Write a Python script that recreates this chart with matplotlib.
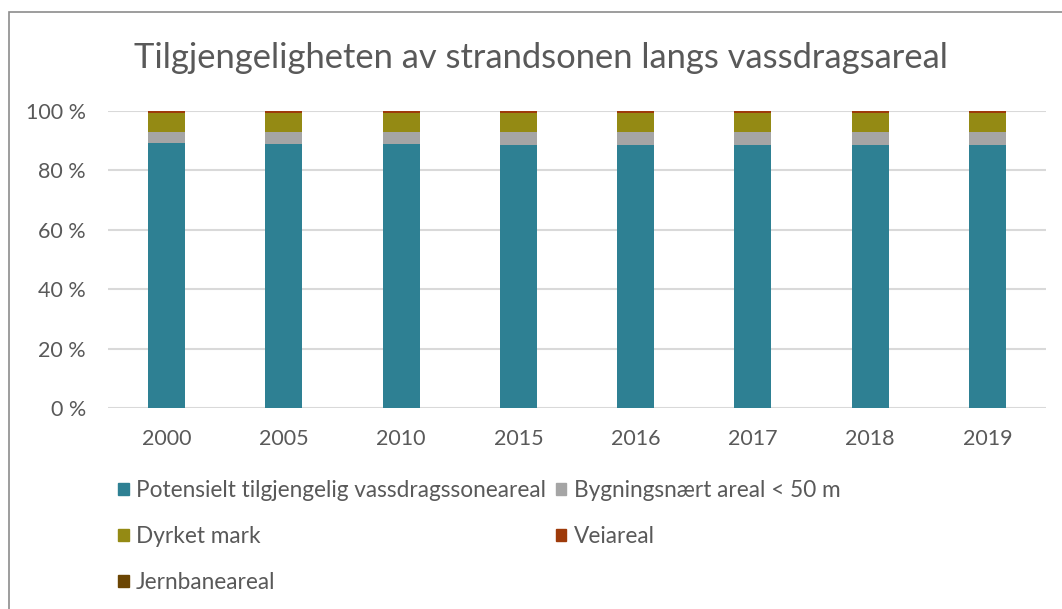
import numpy as np
import matplotlib.pyplot as plt
from matplotlib.patches import Rectangle, Patch

plt.rcParams['font.family'] = ['Lato', 'DejaVu Sans']

# Dades llegides de la gràfica (percent)
aar = ['2000', '2005', '2010', '2015', '2016', '2017', '2018', '2019']
potensielt = [89.1, 89.0, 88.8, 88.7, 88.7, 88.6, 88.6, 88.6]
bygningsnaert = [3.8, 3.9, 4.1, 4.2, 4.2, 4.3, 4.3, 4.3]
dyrket = [6.4, 6.4, 6.4, 6.4, 6.4, 6.4, 6.4, 6.4]
veiareal = [0.6, 0.6, 0.6, 0.6, 0.6, 0.6, 0.6, 0.6]
jernbane = [0.1, 0.1, 0.1, 0.1, 0.1, 0.1, 0.1, 0.1]

serier = ['Potensielt tilgjengelig vassdragssoneareal', 'Bygningsnært areal < 50 m',
          'Dyrket mark', 'Veiareal', 'Jernbaneareal']
farger = ['#2E8093', '#A5A5A5', '#948A14', '#9E3A0A', '#6B4503']
tekst = '#595959'

verdier = np.array([potensielt, bygningsnaert, dyrket, veiareal, jernbane])
andel = verdier / verdier.sum(axis=0) * 100

fig = plt.figure(figsize=(10.62, 6.09), dpi=100)
ax = fig.add_axes([108/1062, 1 - 408/609, 938/1062, 297/609])

x = np.arange(len(aar))
bunn = np.zeros(len(aar))
for navn, rad, farge in zip(serier, andel, farger):
    ax.bar(x, rad, bottom=bunn, width=0.316, color=farge, label=navn, zorder=3)
    bunn += rad

ax.set_xlim(-0.5, len(aar) - 0.5)
ax.set_ylim(0, 100)
ax.set_yticks(np.arange(0, 101, 20))
ax.set_yticklabels([f'{v} %' for v in range(0, 101, 20)])
ax.set_xticks(x)
ax.set_xticklabels(aar)
ax.grid(axis='y', color='#D9D9D9', linewidth=1.5, zorder=0)
for s in ax.spines.values():
    s.set_visible(False)
ax.tick_params(length=0, labelsize=15.5, labelcolor=tekst)
ax.tick_params(axis='y', pad=16)
ax.tick_params(axis='x', pad=15)

fig.text(541/1062, 1 - 58/609, 'Tilgjengeligheten av strandsonen langs vassdragsareal',
         ha='center', va='center', fontsize=24.8, color=tekst)

# ramme rundt diagrammet
fig.patches.append(Rectangle((9/1062, -0.1), 1.2, 1.1 - 12/609, transform=fig.transFigure,
                             fill=False, edgecolor='#8C8C8C', linewidth=1.2))

# forklaring, rad for rad som i Excel
rekkef = [0, 2, 4, 1, 3]
handles = [Patch(color=farger[i]) for i in rekkef]
labels = [serier[i] for i in rekkef]
fig.legend(handles, labels, loc='upper left', bbox_to_anchor=(118/1062, 1 - 480/609),
           ncol=2, frameon=False, fontsize=16.3, labelcolor=tekst,
           handlelength=0.47, handleheight=0.47, handletextpad=0.33,
           labelspacing=1.1, columnspacing=0.43, borderpad=0, borderaxespad=0)

fig.savefig('out.png', dpi=100)
